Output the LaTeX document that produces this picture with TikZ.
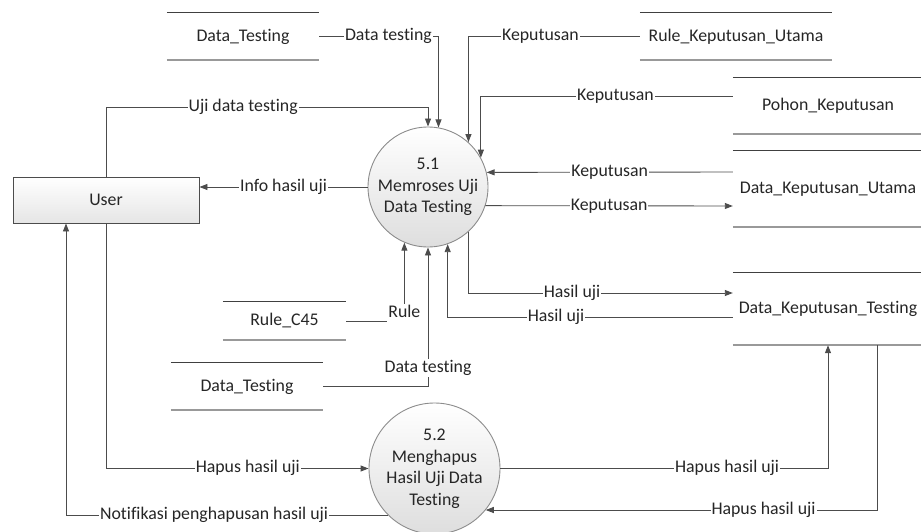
\documentclass[tikz,border=0pt]{standalone}
\usepackage{fontspec}
\setmainfont{Carlito}[RawFeature={-liga;-dlig;-calt;-clig}]
\usetikzlibrary{arrows.meta,calc}
\begin{document}
\begin{tikzpicture}[x=1pt,y=-1pt,
  every node/.style={font=\fontsize{17.8}{21.5}\selectfont, text=black!85},
  flow/.style={draw=black!70, line width=0.9pt, -{Triangle[length=8pt,width=6pt]}},
  lbl/.style={fill=white, inner sep=1pt, text height=12.5pt, text depth=4pt},
  storetop/.style={draw=black!75, line width=1pt},
  storebot/.style={draw=black!40, line width=1.7pt},
  store/.style={rectangle, inner sep=0pt, minimum height=#1,
    append after command={
      (\tikzlastnode.north west) edge[storetop] (\tikzlastnode.north east)
      (\tikzlastnode.south west) edge[storebot] (\tikzlastnode.south east)}},
  proc/.style={circle, draw=black!45, line width=0.9pt, top color=white,
    bottom color=black!13, inner sep=0pt, align=center},
  ent/.style={rectangle, draw=black!70, line width=0.9pt, top color=white,
    bottom color=black!10}]
\path[use as bounding box] (0,0) rectangle (921,532);

% external entity and processes
\node[ent, minimum width=186pt, minimum height=46pt] (user) at (106,200) {User};
\node[proc, minimum size=120pt] (p51) at (428,187) {5.1\\Memroses Uji\\Data Testing};
\node[proc, minimum size=131pt] (p52) at (434.5,468.5) {5.2\\Menghapus\\Hasil Uji Data\\Testing};

% data stores
\node[store=47pt, minimum width=152pt] (dt1) at (243,36.5) {Data\_Testing};
\node[store=47pt, minimum width=192pt] (rku) at (736,36.5) {Rule\_Keputusan\_Utama};
\node[store=56pt, minimum width=190pt] (pk) at (828,106) {Pohon\_Keputusan};
\node[store=76pt, minimum width=190pt] (dku) at (828,189) {Data\_Keputusan\_Utama};
\node[store=72pt, minimum width=190pt] (dkt) at (828,309) {Data\_Keputusan\_Testing};
\node[store=38pt, minimum width=123pt] (rc) at (284.5,321) {Rule\_C45};
\node[store=47pt, minimum width=152pt] (dt2) at (247,386.5) {Data\_Testing};

% flows into and out of 5.1
\draw[flow] (dt1.east) -| node[lbl,pos=0.29]{Data testing} (p51.80.4);
\draw[flow] (user.north) |- node[lbl,pos=0.713]{Uji data testing} (p51.north |- 0,107) -- (p51.north);
\draw[flow] (p51.west) -- node[lbl]{Info hasil uji} (user.east |- p51.west);
\draw[flow] (rku.west) -| node[lbl,pos=0.29]{Keputusan} (p51.48.2);
\draw[flow] ([yshift=10pt]pk.west) -| node[lbl,pos=0.233]{Keputusan} (p51.29.9);
\draw[flow] ([yshift=17pt]dku.west) -- node[lbl]{Keputusan} (p51.14.5);
\draw[flow] (p51.-18.5) -- node[lbl]{Keputusan} ([yshift=-17pt]dku.west);
\draw[flow] (p51.-48.2) |- node[lbl,pos=0.696]{Hasil uji} ([yshift=16pt]dkt.west);
\draw[flow] ([yshift=-8pt]dkt.west) -| node[lbl,pos=0.31]{Hasil uji} (p51.-71.5);
\draw[flow] (rc.east) -| node[lbl,pos=0.5,yshift=8pt]{Rule} (p51.-113.6);
\draw[flow] (dt2.east) -| node[lbl,pos=0.566]{Data testing} (p51.south);

% flows into and out of 5.2
\draw[flow] (user.south) |- node[lbl,pos=0.77]{Hapus hasil uji} (p52.west);
\draw[flow] (p52.-135.2) -| node[lbl,pos=0.27]{Notifikasi penghapusan hasil uji} ([xshift=-40pt]user.south);
\draw[flow] (p52.east) -| node[lbl,pos=0.346]{Hapus hasil uji} (dkt.south);
\draw[flow] ([xshift=49pt]dkt.south) |- node[lbl,pos=0.645]{Hapus hasil uji} (p52.-39.3);
\end{tikzpicture}
\end{document}
